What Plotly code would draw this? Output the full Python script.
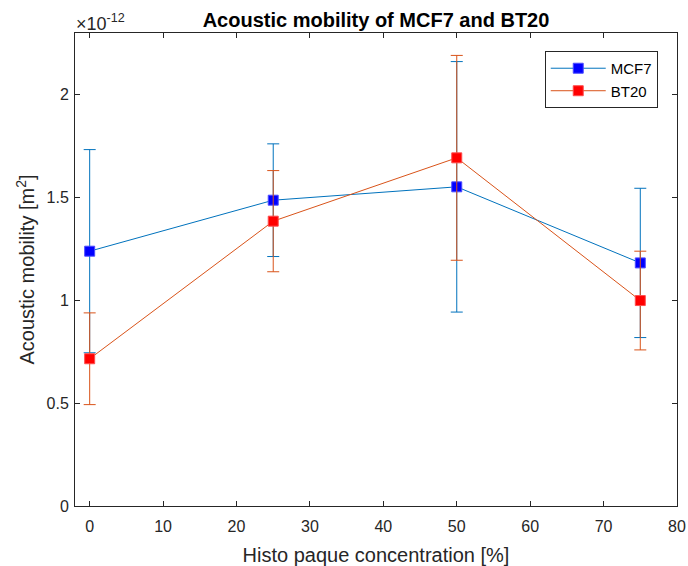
import plotly.graph_objects as go

concentration = [0, 25, 50, 75]
mcf7_mean = [1.239e-12, 1.487e-12, 1.552e-12, 1.182e-12]
mcf7_err = [0.494e-12, 0.274e-12, 0.609e-12, 0.363e-12]
bt20_mean = [0.716e-12, 1.385e-12, 1.693e-12, 0.999e-12]
bt20_err = [0.223e-12, 0.246e-12, 0.498e-12, 0.240e-12]

x_ticks = [0, 10, 20, 30, 40, 50, 60, 70, 80]
y_ticks = [0, 0.5e-12, 1e-12, 1.5e-12, 2e-12]
y_tick_labels = ["0", "0.5", "1", "1.5", "2"]

BLUE_LINE = "#0072BD"
RED_LINE = "#D95319"
AX = "#262626"
FONT = "Liberation Sans, Arial, Helvetica, sans-serif"

fig = go.Figure()
fig.add_trace(go.Scatter(
    x=concentration, y=mcf7_mean, name="MCF7", mode="lines+markers",
    line=dict(color=BLUE_LINE, width=1),
    marker=dict(symbol="square", size=10, color="blue", line=dict(color="#4d4dff", width=1)),
    error_y=dict(type="data", array=mcf7_err, visible=True, color=BLUE_LINE, thickness=1, width=6),
))
fig.add_trace(go.Scatter(
    x=concentration, y=bt20_mean, name="BT20", mode="lines+markers",
    line=dict(color=RED_LINE, width=1),
    marker=dict(symbol="square", size=10, color="red", line=dict(color="#ff4d4d", width=1)),
    error_y=dict(type="data", array=bt20_err, visible=True, color=RED_LINE, thickness=1, width=6),
))

fig.update_layout(
    width=688, height=566,
    margin=dict(l=75, r=11, t=33, b=60, autoexpand=False),
    paper_bgcolor="white", plot_bgcolor="white",
    font=dict(family=FONT, size=16, color=AX),
    title=dict(text="<b>Acoustic mobility of MCF7 and BT20</b>", x=0.5, xanchor="center",
               xref="paper", y=1 - 20 / 566, yanchor="middle", font=dict(size=20, color="black")),
    showlegend=True,
    legend=dict(x=0.968, y=0.962, xanchor="right", yanchor="top",
                bordercolor=AX, borderwidth=1, bgcolor="white",
                font=dict(size=15, color="black"), tracegroupgap=0, itemwidth=55),
)
fig.update_xaxes(
    range=[-2, 80], tickvals=x_ticks, ticks="inside", ticklen=5, tickcolor=AX, automargin=False,
    showline=True, linecolor=AX, linewidth=1, mirror="ticks", showgrid=False, zeroline=False,
    title=dict(text="Histo paque concentration [%]", font=dict(size=20, color=AX)),
    tickfont=dict(size=16, color=AX), ticklabelstandoff=6,
)
fig.update_yaxes(
    range=[0, 2.3e-12], tickvals=y_ticks, ticktext=y_tick_labels, ticks="inside", ticklen=5, tickcolor=AX,
    automargin=True,
    showline=True, linecolor=AX, linewidth=1, mirror="ticks", showgrid=False, zeroline=False,
    title=dict(text="Acoustic mobility [m<sup>2</sup>]", font=dict(size=20, color=AX), standoff=6),
    tickfont=dict(size=16, color=AX), ticklabelstandoff=2,
)
fig.add_annotation(
    text="\u00d710<sup>-12</sup>", xref="paper", yref="paper", x=0, y=1, xanchor="left", yanchor="bottom",
    showarrow=False, font=dict(size=18, color=AX), yshift=-3, xshift=-1,
)
fig.write_html("out.html")
